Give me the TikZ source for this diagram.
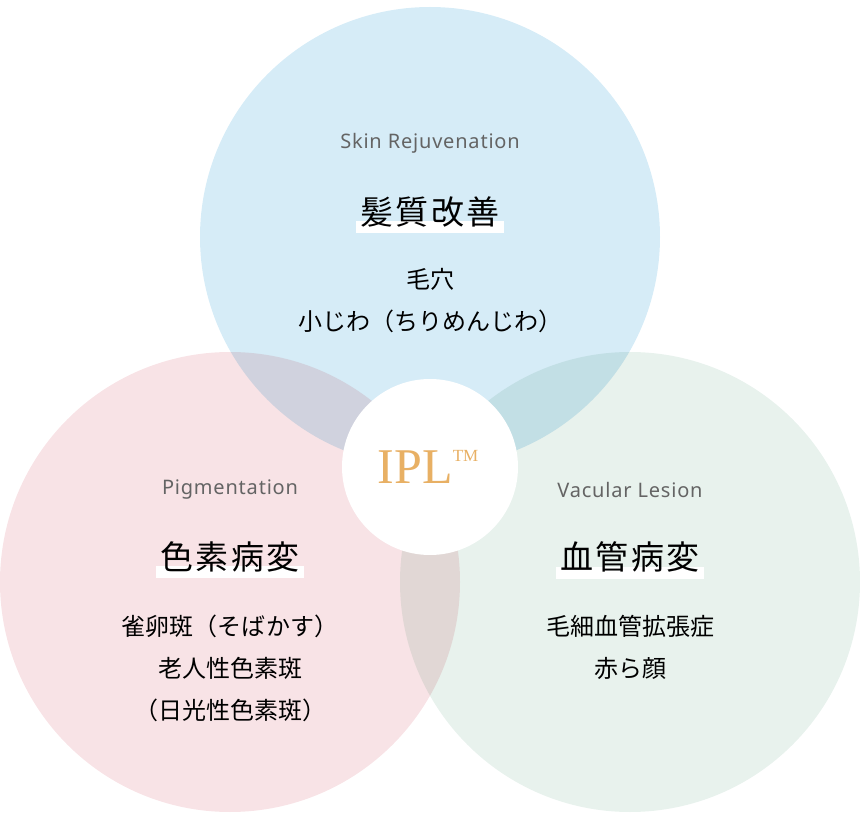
\documentclass[tikz,border=0pt]{standalone}
\usetikzlibrary{calc}
\usepackage{fontspec}
\setmainfont{Noto Sans CJK JP}
\newfontfamily\jp{Noto Sans CJK JP}
\newfontfamily\jphd[LetterSpace=8]{Noto Sans CJK JP}
\newfontfamily\en[LetterSpace=4]{Noto Sans}
\newfontfamily\serifen{Liberation Serif}
\definecolor{cblue}{RGB}{214,236,247}
\definecolor{cpink}{RGB}{248,227,230}
\definecolor{cgreen}{RGB}{232,242,237}
\definecolor{engray}{RGB}{100,100,100}
\definecolor{iplor}{RGB}{232,176,100}
\begin{document}
\begin{tikzpicture}[x=1pt,y=-1pt,
  en/.style={font=\en\fontsize{20}{24}\selectfont, text=engray, inner sep=0},
  hd/.style={font=\jphd\fontsize{33}{40}\selectfont, inner sep=0},
  sub/.style={font=\jp\fontsize{24}{42}\selectfont, align=center, inner sep=0}]
\useasboundingbox (0,0) rectangle (860,818);
\begin{scope}[blend group=multiply]
\fill[cblue] (430,237) circle (230);
\fill[cpink] (230,582) circle (230);
\fill[cgreen] (630,582) circle (230);
\end{scope}
\node[draw=none,fill=white,circle,minimum size=176,inner sep=0] (c) at (430,467) {};
\node[text=iplor, font=\serifen\fontsize{50}{50}\selectfont, inner sep=0] (ipl) at (428,467) {IPL\raisebox{0.45em}{\fontsize{17}{17}\selectfont TM}};
\newcommand\myhead[3]{%
  \node[hd,opacity=0] (#1) at #2 {#3};
  \fill[white] ($(#1.south west)+(-4,-6)$) rectangle ($(#1.south east)+(4,6)$);
  \node[hd] (#1-t) at (#1) {#3};}
\node[en] (e1) at (430,143) {Skin Rejuvenation};
\node[en] (e2) at (230,490) {Pigmentation};
\node[en] (e3) at (630,490) {Vacular Lesion};
\myhead{h1}{(430,212)}{髪質改善}
\myhead{h2}{(230,557)}{色素病変}
\myhead{h3}{(630,557)}{血管病変}
\node[sub,anchor=north] (s1) at (430,268) {毛穴\\小じわ（ちりめんじわ）};
\node[sub,anchor=north] (s2) at (230,615) {雀卵斑（そばかす）\\老人性色素斑\\（日光性色素斑）};
\node[sub,anchor=north] (s3) at (630,615) {毛細血管拡張症\\赤ら顔};
\end{tikzpicture}
\end{document}
